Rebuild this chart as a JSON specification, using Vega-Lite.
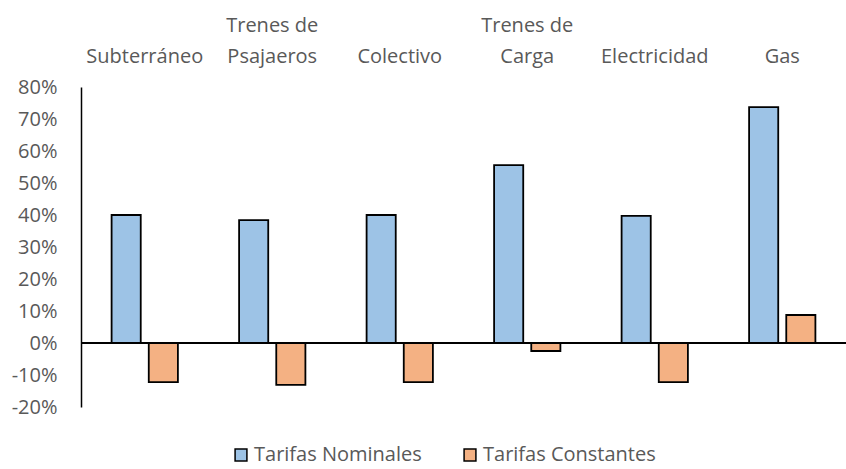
{
  "$schema": "https://vega.github.io/schema/vega-lite/v6.json",
  "width": 765,
  "height": 320,
  "autosize": {"type": "none"},
  "padding": {"left": 81, "top": 87, "right": 0, "bottom": 62},
  "background": "white",
  "config": {
    "view": {"stroke": null},
    "font": "Open Sans",
    "axis": {"labelFont": "Open Sans", "labelColor": "#595959", "labelFontSize": 20, "grid": false, "ticks": false},
    "axisY": {"labelOverlap": false},
    "legend": {"labelFont": "Open Sans", "labelColor": "#595959", "labelFontSize": 20, "labelLimit": 400}
  },
  "data": {
    "values": [
      {"cat": "Subterráneo", "serie": "Tarifas Nominales", "v": 0.40},
      {"cat": "Subterráneo", "serie": "Tarifas Constantes", "v": -0.122},
      {"cat": "Trenes de Psajaeros", "serie": "Tarifas Nominales", "v": 0.384},
      {"cat": "Trenes de Psajaeros", "serie": "Tarifas Constantes", "v": -0.131},
      {"cat": "Colectivo", "serie": "Tarifas Nominales", "v": 0.40},
      {"cat": "Colectivo", "serie": "Tarifas Constantes", "v": -0.122},
      {"cat": "Trenes de Carga", "serie": "Tarifas Nominales", "v": 0.556},
      {"cat": "Trenes de Carga", "serie": "Tarifas Constantes", "v": -0.025},
      {"cat": "Electricidad", "serie": "Tarifas Nominales", "v": 0.397},
      {"cat": "Electricidad", "serie": "Tarifas Constantes", "v": -0.122},
      {"cat": "Gas", "serie": "Tarifas Nominales", "v": 0.737},
      {"cat": "Gas", "serie": "Tarifas Constantes", "v": 0.0875}
    ]
  },
  "layer": [
    {
      "mark": {"type": "bar", "stroke": "black", "strokeWidth": 1.8},
      "encoding": {
        "x": {
          "field": "cat", "type": "nominal", "sort": null,
          "scale": {"paddingInner": 0.48, "paddingOuter": 0.24},
          "axis": {
            "orient": "top", "title": null, "domain": false, "labelAngle": 0,
            "labelPadding": 52, "labelLineHeight": 31, "labelOverlap": false, "labelLimit": 300,
            "labelExpr": "indexof(datum.value,'Trenes de ')==0 ? ['Trenes de', substring(datum.value,10)] : ['', datum.value]"
          }
        },
        "xOffset": {
          "field": "serie", "type": "nominal", "sort": ["Tarifas Nominales", "Tarifas Constantes"],
          "scale": {"paddingInner": 0.216, "paddingOuter": 0}
        },
        "y": {
          "field": "v", "type": "quantitative",
          "scale": {"domain": [-0.2, 0.8], "nice": false},
          "axis": {
            "title": null, "values": [-0.2, -0.1, 0, 0.1, 0.2, 0.3, 0.4, 0.5, 0.6, 0.7, 0.8],
            "labelOverlap": false, "tickCount": 11,
            "labelExpr": "replace(format(datum.value, '.0%'), '−', '-')",
            "domainColor": "black", "domainWidth": 1.5, "labelPadding": 24
          }
        },
        "color": {
          "field": "serie", "type": "nominal", "sort": ["Tarifas Nominales", "Tarifas Constantes"],
          "scale": {"domain": ["Tarifas Nominales", "Tarifas Constantes"], "range": ["#9DC3E6", "#F4B183"]},
          "legend": {
            "title": null, "orient": "none", "direction": "horizontal",
            "legendX": 150, "legendY": 358, "symbolType": "square", "symbolSize": 140,
            "symbolStrokeColor": "black", "symbolStrokeWidth": 1.5, "columnPadding": 38, "labelOffset": 3
          }
        }
      }
    },
    {
      "mark": {"type": "rule", "color": "black", "strokeWidth": 2},
      "encoding": {"y": {"datum": 0, "type": "quantitative"}}
    }
  ]
}
